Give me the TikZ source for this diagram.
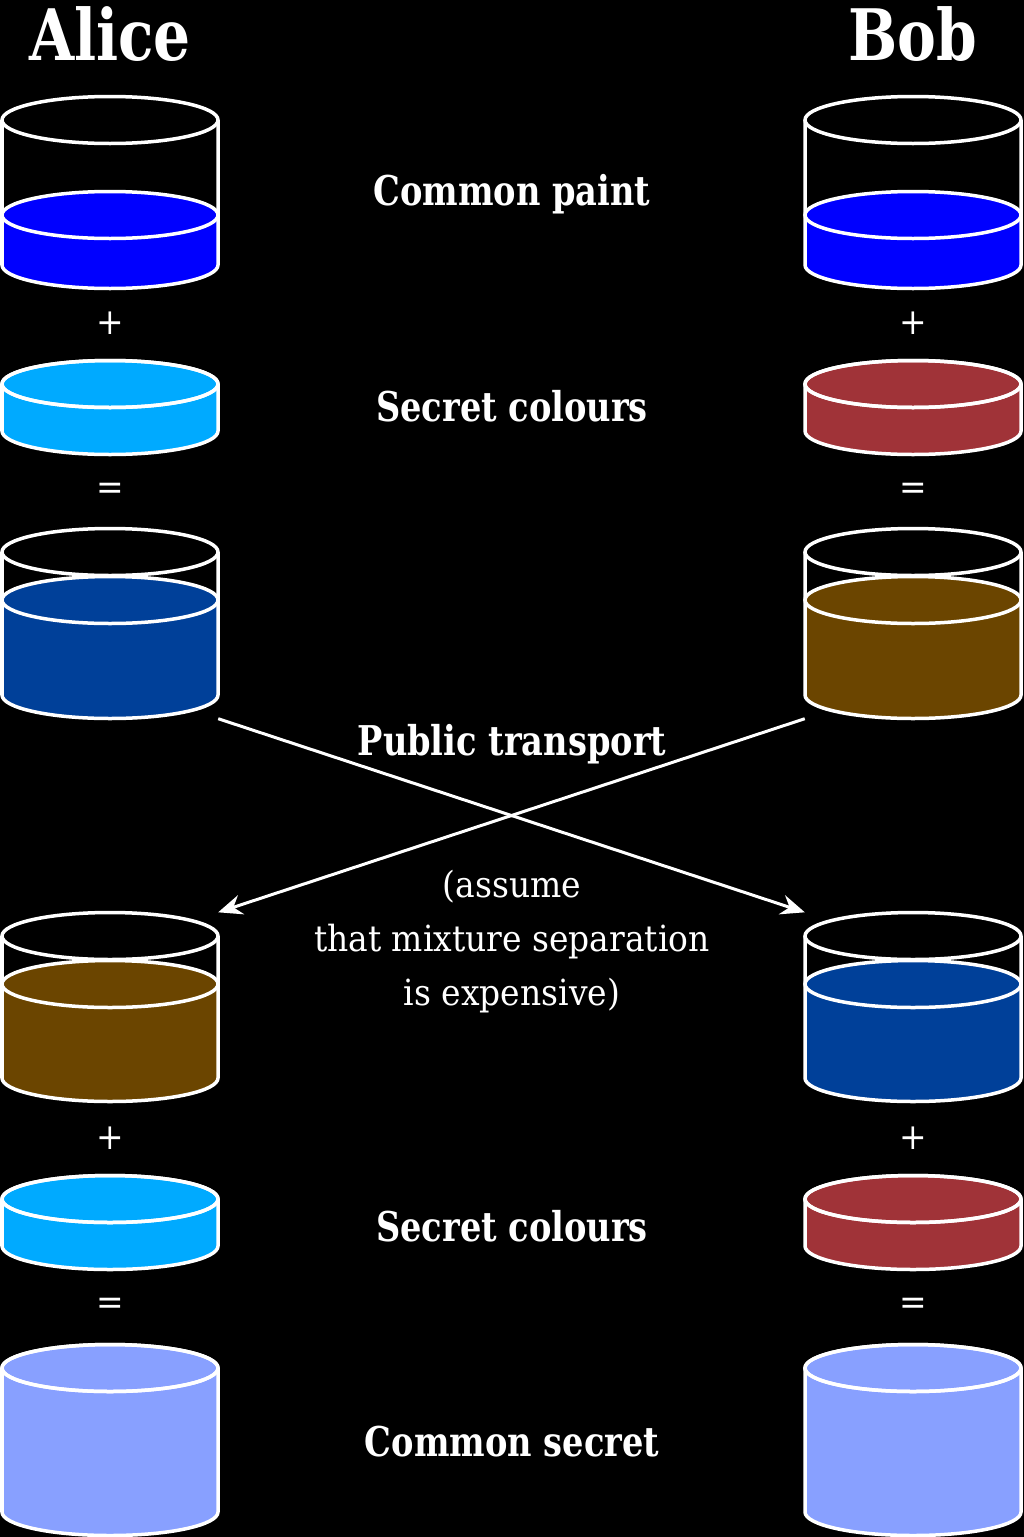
\documentclass[tikz,border=0pt]{standalone}
\usepackage{fontspec}
\setmainfont{DejaVu Serif}[FakeStretch=0.915]
\newfontfamily\boldserif{DejaVu Serif}[FakeStretch=0.82]
\usepackage{tikz}
\usetikzlibrary{arrows.meta}

\definecolor{paintblue}{RGB}{0,0,255}
\definecolor{alicesecret}{RGB}{0,170,255}
\definecolor{alicemix}{RGB}{0,64,153}
\definecolor{bobsecret}{RGB}{160,51,56}
\definecolor{bobmix}{RGB}{107,69,0}
\definecolor{sharedpaint}{RGB}{136,160,255}

% name, x, top, level, bottom, colour
\newcommand{\paintpot}[6]{%
  \node[potbox, minimum height={#5-#3+47}] (#1) at (#2,{(#3+#5)/2}) {};
  \fill[#6] (#2-108,#4) -- (#2-108,#5) arc[start angle=180,end angle=360,x radius=108pt,y radius=23.5pt]
    -- (#2+108,#4) arc[start angle=0,end angle=180,x radius=108pt,y radius=23.5pt] -- cycle;
  \draw[potline] (#2,#3) ellipse[x radius=108pt,y radius=23.5pt];
  \draw[potline] (#2,#4) ellipse[x radius=108pt,y radius=23.5pt];
  \draw[potline] (#2-108,#3) -- (#2-108,#5) arc[start angle=180,end angle=360,x radius=108pt,y radius=23.5pt] -- (#2+108,#3);
}

\begin{document}
\begin{tikzpicture}[x=1pt, y=-1pt, every node/.style={text=white, inner sep=0pt},
    potline/.style={draw=white, line width=3.5pt},
    potbox/.style={draw=none, minimum width=216pt},
    heading/.style={font=\fontsize{71}{80}\selectfont\boldserif\bfseries, anchor=base},
    stage/.style={font=\fontsize{41}{48}\selectfont\boldserif\bfseries, anchor=base},
    note/.style={font=\fontsize{36}{54}\selectfont, align=center, anchor=base},
    sign/.style={font=\fontsize{36}{40}\selectfont},
    transfer/.style={draw=white, line width=3pt, -{Stealth[length=24pt, width=20pt, inset=8pt]}}]
    \useasboundingbox (0,0) rectangle (1024,1537);
    \fill[black] (0,0) rectangle (1024,1537);

    \node[heading] (alice) at (110,60) {Alice};
    \node[heading] (bob) at (913,60) {Bob};

    \paintpot{apaint}{110}{120}{215}{265}{paintblue}
    \paintpot{bpaint}{913}{120}{215}{265}{paintblue}
    \paintpot{asecret}{110}{384}{384}{431}{alicesecret}
    \paintpot{bsecret}{913}{384}{384}{431}{bobsecret}
    \paintpot{amix}{110}{552}{600}{695}{alicemix}
    \paintpot{bmix}{913}{552}{600}{695}{bobmix}
    \paintpot{agot}{110}{936}{984}{1078}{bobmix}
    \paintpot{bgot}{913}{936}{984}{1078}{alicemix}
    \paintpot{akey}{110}{1199}{1199}{1246}{alicesecret}
    \paintpot{bkey}{913}{1199}{1199}{1246}{bobsecret}
    \paintpot{ashared}{110}{1368}{1368}{1512}{sharedpaint}
    \paintpot{bshared}{913}{1368}{1368}{1512}{sharedpaint}

    \foreach \x/\side in {110/a, 913/b} {
        \node[sign] (\side plusone) at (\x,323) {+};
        \node[sign] (\side eqone) at (\x,491) {=};
        \node[sign] (\side plustwo) at (\x,1138) {+};
        \node[sign] (\side eqtwo) at (\x,1306) {=};
    }

    \node[stage] (common) at (512,205) {Common paint};
    \node[stage] (secret) at (512,421) {Secret colours};
    \node[stage] (public) at (512,755) {Public transport};
    \node[note] (assume) at (512,1005) {(assume\\that mixture separation\\is expensive)};
    \node[stage] (secrettwo) at (512,1241) {Secret colours};
    \node[stage] (shared) at (512,1456) {Common secret};

    \draw[transfer] (amix.south east) -- (bgot.north west);
    \draw[transfer] (bmix.south west) -- (agot.north east);
\end{tikzpicture}
\end{document}
